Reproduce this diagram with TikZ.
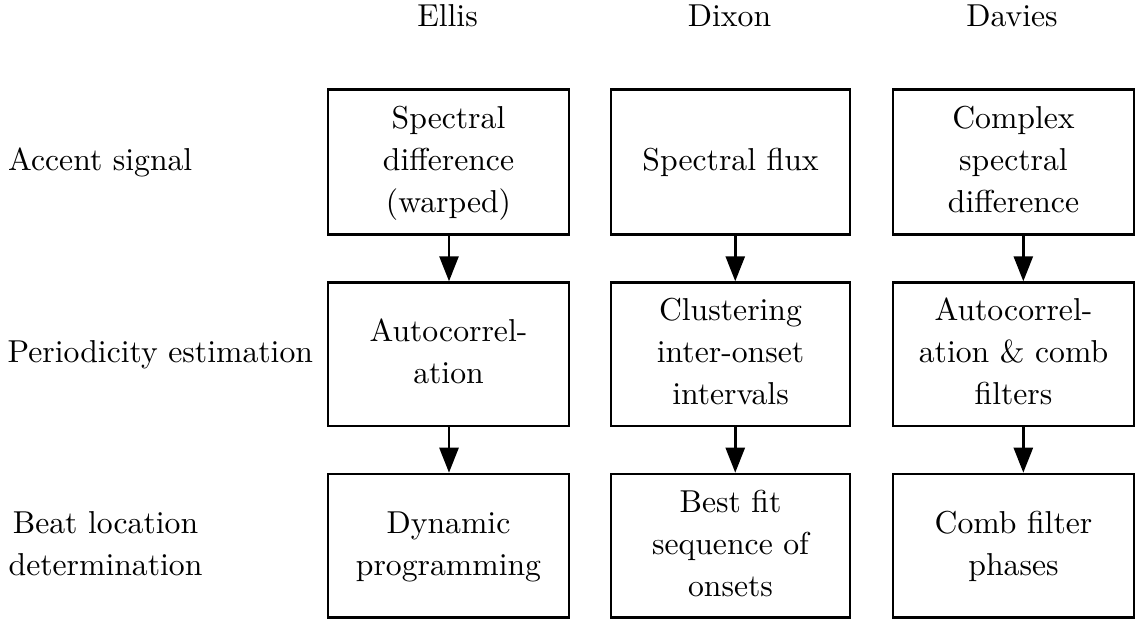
\documentclass[tikz,border=0pt]{standalone}
\usetikzlibrary{arrows.meta}
\renewcommand{\arraystretch}{1.1}
\newcommand{\boxtext}[1]{\begin{tabular}{@{}c@{}}#1\end{tabular}}
\begin{document}
\begin{tikzpicture}[x=0.3155pt,y=-0.3155pt,
  every node/.style={font=\fontsize{10}{12}\selectfont},
  box/.style={draw, line width=0.85pt, inner sep=0pt, minimum width=76pt},
  rowone/.style={minimum height=45.75pt},
  rowtwo/.style={minimum height=45.27pt},
  arr/.style={-{Triangle[length=7.9pt,width=6pt]}, line width=0.85pt},
  lab/.style={anchor=west, inner sep=0pt},
  head/.style={anchor=base, inner sep=0pt}]
\useasboundingbox (0,0) rectangle (1139,620);
% column headers
\node[head] (hE) at (447.5,26.7) {Ellis};
\node[head] (hD) at (729.5,26.7) {Dixon};
\node[head] (hV) at (1012,26.7) {Davies};
% row labels
\node[lab] (lA) at (7.5,162) {\boxtext{Accent signal}};
\node[lab] (lP) at (7,354.4) {\boxtext{Periodicity estimation}};
\node[lab] (lB) at (8,545.8) {\boxtext{Beat location\\determination}};
% boxes
\node[box,rowone] (a1) at (448.5,162) {\boxtext{Spectral\\difference\\(warped)}};
\node[box,rowone,minimum width=75.4pt] (b1) at (730.5,162) {\boxtext{Spectral flux}};
\node[box,rowone] (c1) at (1013.5,162) {\boxtext{Complex\\spectral\\difference}};
\node[box,rowtwo] (a2) at (448.5,354.4) {\boxtext{Autocorrel-\\ation}};
\node[box,rowtwo,minimum width=75.4pt] (b2) at (730.5,354.4) {\boxtext{Clustering\\inter-onset\\intervals}};
\node[box,rowtwo] (c2) at (1013.5,354.4) {\boxtext{Autocorrel-\\ation \& comb\\filters}};
\node[box,rowtwo] (a3) at (448.5,545.8) {\boxtext{Dynamic\\programming}};
\node[box,rowtwo,minimum width=75.4pt] (b3) at (730.5,545.8) {\boxtext{Best fit\\sequence of\\onsets}};
\node[box,rowtwo] (c3) at (1013.5,545.8) {\boxtext{Comb filter\\phases}};
% arrows
\draw[arr] ([xshift=0.16pt]a1.south) -- ([xshift=0.16pt]a2.north);
\draw[arr] ([xshift=0.16pt]a2.south) -- ([xshift=0.16pt]a3.north);
\draw[arr] ([xshift=1.5pt]b1.south) -- ([xshift=1.5pt]b2.north);
\draw[arr] ([xshift=1.5pt]b2.south) -- ([xshift=1.5pt]b3.north);
\draw[arr] ([xshift=3.1pt]c1.south) -- ([xshift=3.1pt]c2.north);
\draw[arr] ([xshift=3.1pt]c2.south) -- ([xshift=3.1pt]c3.north);
\end{tikzpicture}
\end{document}
